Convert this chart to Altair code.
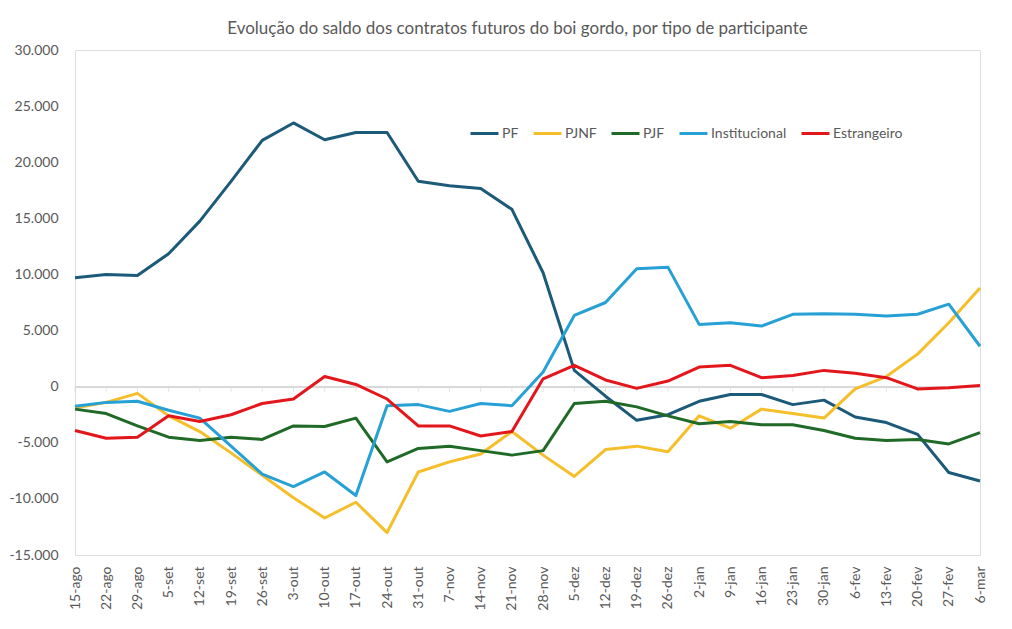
import altair as alt
import pandas as pd

semanas = ["15-ago", "22-ago", "29-ago", "5-set", "12-set", "19-set", "26-set",
           "3-out", "10-out", "17-out", "24-out", "31-out", "7-nov", "14-nov",
           "21-nov", "28-nov", "5-dez", "12-dez", "19-dez", "26-dez", "2-jan",
           "9-jan", "16-jan", "23-jan", "30-jan", "6-fev", "13-fev", "20-fev",
           "27-fev", "6-mar"]

pf = [9700, 10000, 9900, 11850, 14750, 18300, 21950, 23500, 22000, 22650,
      22650, 18300, 17900, 17650, 15800, 10150, 1450, -850, -3000, -2500,
      -1300, -700, -700, -1600, -1200, -2700, -3200, -4250, -7650, -8400]
pjnf = [-1900, -1400, -600, -2600, -4000, -5900, -7900, -9900, -11700, -10300,
        -13000, -7600, -6700, -6000, -4000, -6100, -8000, -5600, -5300, -5800,
        -2600, -3700, -2000, -2400, -2800, -200, 900, 2900, 5700, 8800]
pjf = [-2000, -2400, -3500, -4500, -4800, -4500, -4700, -3500, -3550, -2800,
       -6700, -5500, -5300, -5700, -6100, -5700, -1500, -1300, -1800, -2600,
       -3300, -3100, -3400, -3400, -3900, -4600, -4800, -4700, -5100, -4100]
institucional = [-1750, -1400, -1300, -2100, -2800, -5300, -7800, -8900, -7600,
                 -9700, -1700, -1600, -2200, -1500, -1700, 1300, 6350, 7500,
                 10500, 10650, 5550, 5700, 5400, 6450, 6500, 6450, 6300, 6450,
                 7350, 3600]
estrangeiro = [-3900, -4600, -4500, -2600, -3100, -2500, -1500, -1100, 900, 200,
               -1100, -3500, -3500, -4400, -4000, 700, 1900, 600, -150, 500,
               1750, 1900, 800, 1000, 1450, 1200, 800, -200, -100, 100]

series_names = ["PF", "PJNF", "PJF", "Institucional", "Estrangeiro"]
series_values = [pf, pjnf, pjf, institucional, estrangeiro]
series_colors = ["#1B5A78", "#F5BE2A", "#1F6A26", "#27A0D5", "#E3161C"]

rows = []
for name, vals in zip(series_names, series_values):
    for i, (s, v) in enumerate(zip(semanas, vals)):
        rows.append({"semana": s, "ordem": i, "serie": name, "valor": v})
df = pd.DataFrame(rows)
df_sem = pd.DataFrame({"semana": semanas})

FONT = "Lato"
GREY = "#595959"

x_enc = alt.X("semana:N", sort=semanas,
              scale=alt.Scale(type="point", padding=0),
              axis=alt.Axis(title=None, labelAngle=270, labelFontSize=14,
                            labelFont=FONT, labelColor=GREY, domain=False,
                            ticks=False, labelPadding=11, grid=False))
y_scale = alt.Scale(domain=[-15000, 30000], nice=False, zero=False)

zero_line = alt.Chart(df_sem).mark_rule(color="#D9D9D9", strokeWidth=1).encode(
    y=alt.datum(0, scale=y_scale)
)
ticks = alt.Chart(df_sem).mark_tick(color="#D9D9D9", orient="vertical",
                                    size=5, thickness=1, yOffset=2.5).encode(
    x=x_enc,
    y=alt.datum(0, scale=y_scale),
)

label_expr = ("(datum.value < 0 ? '-' : '') + "
              "(abs(datum.value) >= 1000 ? floor(abs(datum.value) / 1000) + '.' + "
              "format(abs(datum.value) % 1000, '03d') : abs(datum.value) + '')")

lines = alt.Chart(df).mark_line(strokeWidth=3, strokeJoin="round").encode(
    x=x_enc,
    y=alt.Y("valor:Q", scale=y_scale,
            axis=alt.Axis(title=None, values=list(range(-15000, 30001, 5000)),
                          labelExpr=label_expr,
                          labelFontSize=14, labelFont=FONT, labelColor=GREY,
                          domain=False, ticks=False, grid=False, labelPadding=17)),
    color=alt.Color("serie:N", sort=series_names,
                    scale=alt.Scale(domain=series_names, range=series_colors),
                    legend=alt.Legend(title=None, orient="none", direction="horizontal",
                                      legendX=394, legendY=68,
                                      symbolType="stroke", symbolSize=784,
                                      symbolStrokeWidth=3, labelFontSize=14,
                                      labelFont=FONT, labelColor=GREY,
                                      labelOffset=2, columnPadding=8,
                                      gridAlign="none")),
    order="ordem:Q",
)

chart = alt.layer(zero_line, ticks, lines).properties(
    width=905, height=505,
    title=alt.TitleParams("Evolução do saldo dos contratos futuros do boi gordo, por tipo de participante",
                          fontSize=17, font=FONT, color=GREY, fontWeight="normal",
                          anchor="middle", dx=-10, offset=5),
    padding={"left": 75, "top": 50, "right": 32, "bottom": 74},
    autosize=alt.AutoSizeParams(type="none"),
).configure_view(stroke=None).configure(background="white")

chart.save("out.html", embed_options={"renderer": "svg", "actions": False})
